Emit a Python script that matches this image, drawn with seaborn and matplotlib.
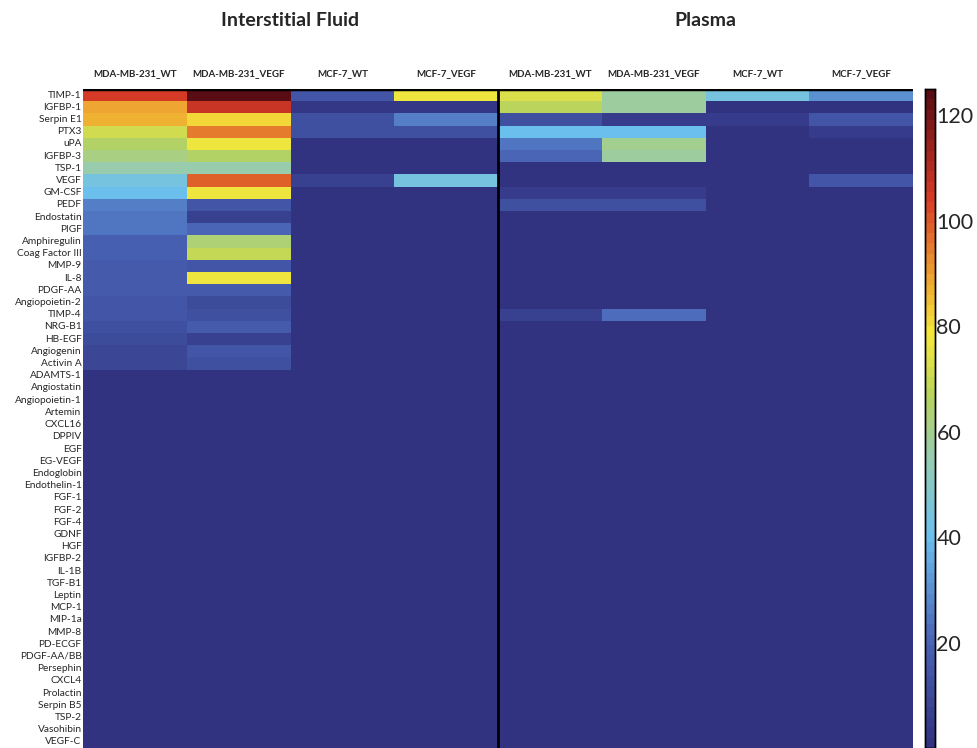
import numpy as np
import pandas as pd
import matplotlib
matplotlib.use("Agg")
import matplotlib.pyplot as plt
import seaborn as sns
from matplotlib.colors import LinearSegmentedColormap

# analytes (rows, top to bottom)
analytes = ["TIMP-1", "IGFBP-1", "Serpin E1", "PTX3", "uPA", "IGFBP-3", "TSP-1", "VEGF",
            "GM-CSF", "PEDF", "Endostatin", "PIGF", "Amphiregulin", "Coag Factor III",
            "MMP-9", "IL-8", "PDGF-AA", "Angiopoietin-2", "TIMP-4", "NRG-B1", "HB-EGF",
            "Angiogenin", "Activin A", "ADAMTS-1", "Angiostatin", "Angiopoietin-1",
            "Artemin", "CXCL16", "DPPIV", "EGF", "EG-VEGF", "Endoglobin", "Endothelin-1",
            "FGF-1", "FGF-2", "FGF-4", "GDNF", "HGF", "IGFBP-2", "IL-1B", "TGF-B1",
            "Leptin", "MCP-1", "MIP-1a", "MMP-8", "PD-ECGF", "PDGF-AA/BB", "Persephin",
            "CXCL4", "Prolactin", "Serpin B5", "TSP-2", "Vasohibin", "VEGF-C"]
samples = ["MDA-MB-231_WT", "MDA-MB-231_VEGF", "MCF-7_WT", "MCF-7_VEGF"]
groups = ["Interstitial Fluid", "Plasma"]

# values for the first 23 analytes, the rest are zero
if_mda_wt = [105, 88, 87, 72, 65, 62, 55, 43, 40, 26, 25, 25, 19, 18, 17, 16, 16, 15, 14, 13, 10, 8, 8]
if_mda_vegf = [124, 106, 82, 94, 78, 66, 56, 98, 78, 14, 6, 21, 64, 69, 14, 78, 16, 10, 13, 16, 6, 14, 12]
if_mcf_wt = [14, 2, 12, 13, 0, 0, 0, 6, 0, 0, 0, 0, 0, 0, 0, 0, 0, 0, 0, 0, 0, 0, 0]
if_mcf_vegf = [78, 2, 26, 13, 0, 0, 0, 44, 0, 0, 0, 0, 0, 0, 0, 0, 0, 0, 0, 0, 0, 0, 0]
pl_mda_wt = [73, 68, 12, 40, 24, 20, 0, 0, 4, 12, 0, 0, 0, 0, 0, 0, 0, 0, 6, 0, 0, 0, 0]
pl_mda_vegf = [57, 57, 5, 40, 60, 57, 0, 0, 4, 13, 0, 0, 0, 0, 0, 0, 0, 0, 22, 0, 0, 0, 0]
pl_mcf_wt = [44, 0, 4, 0, 0, 0, 0, 0, 0, 0, 0, 0, 0, 0, 0, 0, 0, 0, 0, 0, 0, 0, 0]
pl_mcf_vegf = [30, 1, 14, 4, 0, 0, 0, 14, 0, 0, 0, 0, 0, 0, 0, 0, 0, 0, 0, 0, 0, 0, 0]

cols = [if_mda_wt, if_mda_vegf, if_mcf_wt, if_mcf_vegf,
        pl_mda_wt, pl_mda_vegf, pl_mcf_wt, pl_mcf_vegf]
n = len(analytes)
data = np.zeros((n, len(cols)))
for j, c in enumerate(cols):
    data[:len(c), j] = c
df = pd.DataFrame(data, index=analytes,
                  columns=[f"{g}|{s}" for g in groups for s in samples])

# jet-like map with a navy floor
cmap = LinearSegmentedColormap.from_list("cyto", [
    (0.00, "#313280"),
    (0.16, "#4a64b6"),
    (0.32, "#6cc0ee"),
    (0.44, "#96ccb0"),
    (0.53, "#b5d260"),
    (0.63, "#f5e83a"),
    (0.72, "#eda030"),
    (0.84, "#d63a26"),
    (1.00, "#5a0c14"),
], N=64)

sns.set_style("white")
plt.rcParams["font.family"] = ["Lato", "DejaVu Sans"]

fig = plt.figure(figsize=(9.77, 7.48), dpi=100)
ax = fig.add_axes([83 / 977, 0, 830 / 977, 659 / 748])
cax = fig.add_axes([925 / 977, 0, 10 / 977, 659 / 748])

sns.heatmap(df, ax=ax, cmap=cmap, vmin=0, vmax=125, cbar_ax=cax,
            xticklabels=samples * 2, yticklabels=analytes)

ax.xaxis.tick_top()
ax.tick_params(axis="x", length=0, pad=8, labelsize=7)
ax.tick_params(axis="y", length=0, pad=1, labelsize=7.3)
for t in ax.get_xticklabels():
    t.set_fontweight("bold")
    t.set_rotation(0)
ax.set_xlabel("")
ax.set_ylabel("")

# group separator and top rule
ax.axvline(4, color="black", lw=2)
ax.axhline(0, color="black", lw=2.5)

for i, g in enumerate(groups):
    fig.text((83 + 415 * i + 207) / 977, 1 - 20 / 748, g, ha="center", va="center",
             fontsize=14, fontweight="bold")

cax.set_yticks([20, 40, 60, 80, 100, 120])
cax.tick_params(axis="y", labelsize=15.5, length=2, width=1.2, pad=0, direction="inout")
for s in cax.spines.values():
    s.set_visible(True)
    s.set_color("black")
    s.set_linewidth(1)

fig.savefig("out.png", dpi=100)
